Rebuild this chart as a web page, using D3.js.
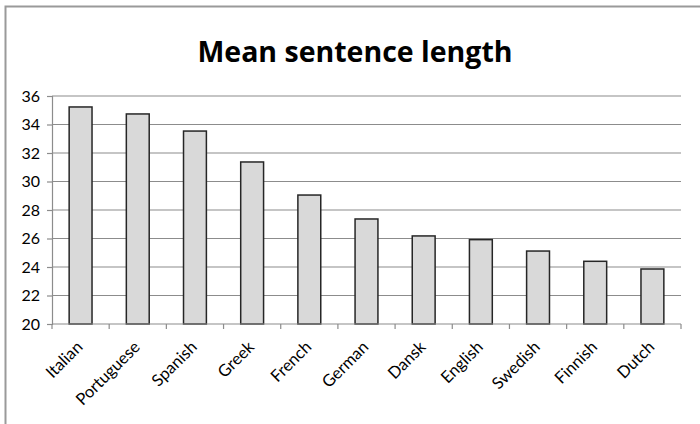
<!DOCTYPE html>
<html>
<head>
<meta charset="utf-8">
<script src="https://cdn.jsdelivr.net/npm/d3@7"></script>
<style>
  html, body { margin: 0; padding: 0; background: #fff; }
  svg { display: block; font-family: Lato, "Open Sans", sans-serif; }
</style>
</head>
<body>
<svg id="chart" width="700" height="424"></svg>
<script>
// Mean sentence length per language
const languages = ["Italian", "Portuguese", "Spanish", "Greek", "French", "German", "Dansk", "English", "Swedish", "Finnish", "Dutch"];
const meanLength = [35.23, 34.74, 33.54, 31.37, 29.05, 27.37, 26.18, 25.92, 25.12, 24.40, 23.86];
const yTicks = [20, 22, 24, 26, 28, 30, 32, 34, 36];
const chartTitle = "Mean sentence length";

const svg = d3.select("#chart");
const margin = { left: 52, right: 19, top: 96, bottom: 100 };
const W = 700, H = 424;

// outer frame
svg.append("rect")
  .attr("x", 5.5).attr("y", 6.5)
  .attr("width", 720).attr("height", 440)
  .attr("fill", "none").attr("stroke", "#9a9a9a").attr("stroke-width", 2);

const x = d3.scaleBand()
  .domain(languages)
  .range([margin.left, W - margin.right])
  .paddingInner(0.6).paddingOuter(0.3);

const y = d3.scaleLinear()
  .domain([20, 36])
  .range([H - margin.bottom, margin.top]);

// horizontal gridlines
svg.append("g")
  .selectAll("line")
  .data(yTicks.slice(1))
  .join("line")
  .attr("x1", margin.left).attr("x2", W - margin.right)
  .attr("y1", d => y(d)).attr("y2", d => y(d))
  .attr("stroke", "#8c8c8c").attr("stroke-width", 1.2);

// bars
svg.append("g")
  .selectAll("rect")
  .data(languages)
  .join("rect")
  .attr("x", d => x(d))
  .attr("y", (d, i) => y(meanLength[i]))
  .attr("width", x.bandwidth())
  .attr("height", (d, i) => y(20) - y(meanLength[i]))
  .attr("fill", "#d9d9d9")
  .attr("stroke", "#262626").attr("stroke-width", 1.5);

// y axis
const yAxis = svg.append("g")
  .attr("transform", `translate(${margin.left},0)`)
  .call(d3.axisLeft(y).tickValues(yTicks).tickSize(5).tickPadding(7).tickFormat(d3.format("d")));
yAxis.select(".domain").attr("stroke", "#8c8c8c").attr("stroke-width", 1.2);
yAxis.selectAll(".tick line").attr("stroke", "#8c8c8c").attr("stroke-width", 1.2);
yAxis.selectAll(".tick text").attr("font-size", 16).attr("fill", "#000")
  .attr("font-family", "Lato, sans-serif");

// x axis with boundary ticks between categories
const xLine = svg.append("g");
xLine.append("line")
  .attr("x1", margin.left).attr("x2", W - margin.right)
  .attr("y1", y(20)).attr("y2", y(20))
  .attr("stroke", "#8c8c8c").attr("stroke-width", 1.2);
const bounds = d3.range(languages.length + 1).map(i => margin.left + i * (W - margin.left - margin.right) / languages.length);
xLine.selectAll("line.bt")
  .data(bounds)
  .join("line").attr("class", "bt")
  .attr("x1", d => d).attr("x2", d => d)
  .attr("y1", y(20)).attr("y2", y(20) + 5)
  .attr("stroke", "#8c8c8c").attr("stroke-width", 1.2);

// rotated category labels
svg.append("g")
  .selectAll("text")
  .data(languages)
  .join("text")
  .attr("transform", d => `translate(${x(d) + x.bandwidth() / 2 - 1},${y(20) + 20}) rotate(-45)`)
  .attr("text-anchor", "end")
  .attr("dy", "0.35em")
  .attr("font-size", 16.5)
  .attr("fill", "#000")
  .text(d => d);

// title
svg.append("text")
  .attr("x", 355).attr("y", 62)
  .attr("text-anchor", "middle")
  .attr("font-family", "'Open Sans', sans-serif")
  .attr("font-size", 28.5)
  .attr("font-weight", "bold")
  .attr("fill", "#000")
  .text(chartTitle);
</script>
</body>
</html>
